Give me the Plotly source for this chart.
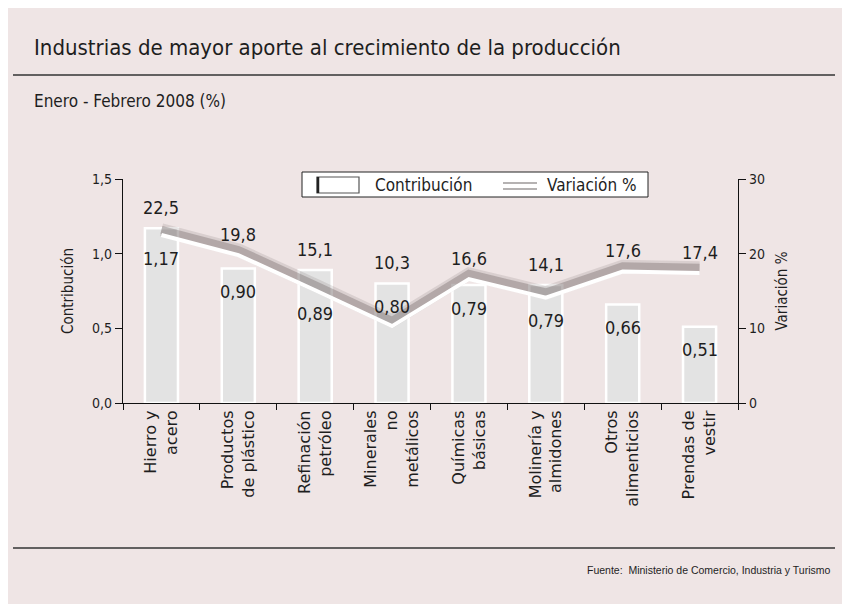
import plotly.graph_objects as go

# Datos
categorias = ["Hierro y<br>acero", "Productos<br>de plástico", "Refinación<br>petróleo",
              "Minerales<br>no<br>metálicos", "Químicas<br>básicas", "Molinería y<br>almidones",
              "Otros<br>alimenticios", "Prendas de<br>vestir"]
contribucion = [1.17, 0.90, 0.89, 0.80, 0.79, 0.79, 0.66, 0.51]
variacion = [22.5, 19.8, 15.1, 10.3, 16.6, 14.1, 17.6, 17.4]

# Geometria: la pagina deja 8 px de margen, asi que las cuentas van en pixeles de pantalla
OFF = 8
W, H = 850, 604
L, R, T, B = 123, 738, 179, 403
PW, PH = R - L, B - T

NARROW = "DejaVu Sans Condensed, Liberation Sans Narrow, sans-serif"
FONDO = "#efe5e5"
TEXTO = "#1e1e1e"


def px_x(p):
    return (p - L) / PW


def px_y(p):
    return (B - p) / PH


def coma(v, d):
    return f"{v:.{d}f}".replace(".", ",")


fig = go.Figure()

# Barras
fig.add_trace(go.Bar(
    x=categorias, y=contribucion, width=0.43,
    marker=dict(color="#e3e3e3", line=dict(color="white", width=2.5)),
    showlegend=False, hoverinfo="skip"
))

# Sombra de la linea (eje y2 oculto, desplazado unos pixeles hacia arriba)
for w, a in [(13, 0.16), (8, 0.34)]:
    fig.add_trace(go.Scatter(
        x=categorias, y=variacion, yaxis="y2", mode="lines",
        line=dict(color=f"rgba(105,95,95,{a})", width=w),
        showlegend=False, hoverinfo="skip"
    ))

# Linea blanca sobre el eje derecho visible
fig.add_trace(go.Scatter(
    x=categorias, y=variacion, yaxis="y3", mode="lines",
    line=dict(color="white", width=4),
    showlegend=False
))

# Etiquetas de valores
anots = []
for c, v, b in zip(categorias, variacion, contribucion):
    linea = v / 20.0
    tope = max(b, linea)
    anots.append(dict(x=c, y=tope, xref="x", yref="y", text=coma(v, 1),
                      showarrow=False, yshift=21, font=dict(family=NARROW, size=18, color=TEXTO)))
    ancla = min(b, linea) if b - linea < 0.2 else b
    anots.append(dict(x=c, y=ancla, xref="x", yref="y", text=coma(b, 2),
                      showarrow=False, yshift=-23, font=dict(family=NARROW, size=18, color=TEXTO)))

# Titulos, leyenda y fuente
anots += [
    dict(x=px_x(32), y=px_y(47), xref="paper", yref="paper", xanchor="left", yanchor="middle",
         text="Industrias de mayor aporte al crecimiento de la producción", showarrow=False,
         font=dict(family=NARROW, size=22, color=TEXTO)),
    dict(x=px_x(32), y=px_y(101), xref="paper", yref="paper", xanchor="left", yanchor="middle",
         text="Enero - Febrero 2008 (%)", showarrow=False,
         font=dict(family=NARROW, size=17, color=TEXTO)),
    dict(x=px_x(833), y=px_y(570), xref="paper", yref="paper", xanchor="right", yanchor="middle",
         text="Fuente:  Ministerio de Comercio, Industria y Turismo", showarrow=False,
         font=dict(family="Liberation Sans, Arial, sans-serif", size=10.5, color=TEXTO)),
    dict(x=px_x(373), y=px_y(185), xref="paper", yref="paper", xanchor="left", yanchor="middle",
         text="Contribución", showarrow=False, font=dict(family=NARROW, size=17, color=TEXTO)),
    dict(x=px_x(545), y=px_y(185), xref="paper", yref="paper", xanchor="left", yanchor="middle",
         text="Variación %", showarrow=False, font=dict(family=NARROW, size=17, color=TEXTO)),
]

formas = [
    dict(type="line", xref="paper", yref="paper", x0=px_x(13), x1=px_x(835), y0=px_y(75), y1=px_y(75),
         line=dict(color="#333", width=1.5)),
    dict(type="line", xref="paper", yref="paper", x0=px_x(13), x1=px_x(835), y0=px_y(548), y1=px_y(548),
         line=dict(color="#333", width=1.5)),
    # caja de leyenda
    dict(type="rect", xref="paper", yref="paper", x0=px_x(302), x1=px_x(648), y0=px_y(197), y1=px_y(172),
         fillcolor="white", line=dict(color="#222", width=1)),
    dict(type="rect", xref="paper", yref="paper", x0=px_x(317), x1=px_x(359), y0=px_y(193), y1=px_y(177),
         fillcolor="white", line=dict(color="#555", width=1.2)),
    dict(type="line", xref="paper", yref="paper", x0=px_x(318), x1=px_x(318), y0=px_y(193), y1=px_y(177),
         line=dict(color="#222", width=2.5)),
    dict(type="line", xref="paper", yref="paper", x0=px_x(503), x1=px_x(537), y0=px_y(186), y1=px_y(186),
         line=dict(color="rgba(120,115,115,0.55)", width=8)),
    dict(type="line", xref="paper", yref="paper", x0=px_x(503), x1=px_x(537), y0=px_y(186), y1=px_y(186),
         line=dict(color="white", width=4)),
]

fig.update_layout(
    width=W, height=H,
    margin=dict(l=L - OFF, r=W - (R - OFF), t=T - OFF, b=H - (B - OFF)),
    paper_bgcolor=FONDO, plot_bgcolor="rgba(0,0,0,0)",
    separators=",.",
    showlegend=False,
    font=dict(family=NARROW, size=14, color=TEXTO),
    xaxis=dict(type="category", tickangle=-90, showgrid=False, showline=True, linecolor="#111",
               linewidth=1.2, ticks="outside", tickson="boundaries", ticklen=6, tickcolor="#111",
               tickfont=dict(family="DejaVu Sans, sans-serif", size=16, color=TEXTO)),
    yaxis=dict(range=[0, 1.5], dtick=0.5, tickformat=".1f", showgrid=False, zeroline=False,
               showline=True, linecolor="#111", linewidth=1.2, ticks="outside", ticklen=7,
               tickcolor="#111", title=dict(text="Contribución", standoff=14,
                                            font=dict(family=NARROW, size=15))),
    yaxis2=dict(range=[-0.7, 29.3], overlaying="y", visible=False),
    yaxis3=dict(range=[0, 30], dtick=10, overlaying="y", side="right", showgrid=False,
                zeroline=False, showline=True, linecolor="#111", linewidth=1.2, ticks="outside",
                ticklen=7, tickcolor="#111",
                title=dict(text="Variación %", standoff=12, font=dict(family=NARROW, size=15))),
    annotations=anots,
    shapes=formas,
)

fig.write_html("out.html")
